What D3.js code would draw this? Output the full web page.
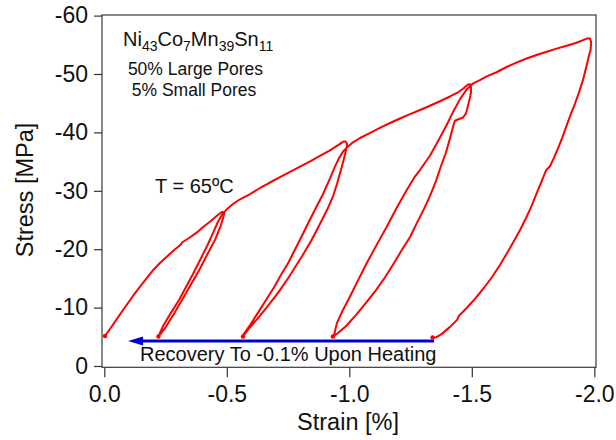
<!DOCTYPE html>
<html>
<head>
<meta charset="utf-8">
<script src="https://cdn.jsdelivr.net/npm/d3@7"></script>
<style>
  html, body { margin: 0; padding: 0; background: #fff; }
  svg { display: block; font-family: "Liberation Sans", Arial, Helvetica, sans-serif; }
</style>
</head>
<body>
<svg id="chart" width="616" height="440"></svg>
<script>
// Stress–strain cycles at T = 65 °C, [strain %, stress MPa]
const cycle1Load = [[-0.003,-5.14],[-0.023,-6.34],[-0.044,-7.59],[-0.068,-9.08],[-0.091,-10.45],[-0.117,-11.99],[-0.146,-13.58],[-0.174,-15.07],[-0.200,-16.44],[-0.227,-17.64],[-0.255,-18.72],[-0.285,-19.86],[-0.313,-20.8],[-0.317,-21.15],[-0.346,-21.92],[-0.377,-22.83],[-0.403,-23.8],[-0.431,-24.71],[-0.456,-25.6],[-0.475,-26.25],[-0.483,-26.4],[-0.489,-26.1]];
const cycle1Unload = [[-0.487,-25.7],[-0.476,-24.1],[-0.452,-21.6],[-0.419,-19.0],[-0.387,-16.4],[-0.354,-14.0],[-0.321,-11.6],[-0.284,-8.9],[-0.248,-6.5],[-0.221,-5.05]];
const cycle1Reload = [[-0.240,-6.85],[-0.272,-9.1],[-0.305,-11.3],[-0.333,-13.5],[-0.362,-15.75],[-0.391,-18.15],[-0.419,-20.5],[-0.444,-22.8],[-0.464,-24.7],[-0.480,-25.9],[-0.497,-26.7]];
const cycle2Load = [[-0.525,-27.74],[-0.554,-28.55],[-0.595,-29.45],[-0.636,-30.48],[-0.676,-31.42],[-0.717,-32.33],[-0.758,-33.24],[-0.799,-34.15],[-0.840,-35.03],[-0.880,-35.96],[-0.921,-36.93],[-0.954,-37.81],[-0.976,-38.43],[-0.985,-38.44],[-0.991,-38.01]];
const cycle2Unload = [[-0.989,-37.5],[-0.982,-36.1],[-0.966,-33.6],[-0.950,-31.2],[-0.934,-29.1],[-0.909,-26.7],[-0.876,-23.97],[-0.844,-21.4],[-0.807,-18.8],[-0.753,-15.2],[-0.712,-12.7],[-0.668,-10.3],[-0.623,-8.0],[-0.586,-6.2],[-0.566,-5.05]];
const cycle2Reload = [[-0.570,-5.5],[-0.595,-7.0],[-0.627,-9.1],[-0.660,-11.3],[-0.693,-13.5],[-0.721,-15.6],[-0.750,-17.6],[-0.778,-19.9],[-0.807,-22.3],[-0.835,-24.7],[-0.864,-27.1],[-0.893,-29.45],[-0.919,-31.9],[-0.940,-34.0],[-0.958,-35.6],[-0.976,-36.8],[-0.995,-37.6]];
const cycle3Load = [[-1.015,-38.3],[-1.044,-39.04],[-1.085,-39.93],[-1.125,-40.79],[-1.166,-41.61],[-1.207,-42.38],[-1.248,-43.12],[-1.289,-43.84],[-1.329,-44.57],[-1.370,-45.34],[-1.411,-46.15],[-1.444,-46.87],[-1.464,-47.47],[-1.478,-47.97],[-1.487,-48.24],[-1.495,-48.2],[-1.497,-47.6]];
const cycle3Unload = [[-1.497,-47.0],[-1.493,-46.0],[-1.484,-44.5],[-1.476,-43.2],[-1.464,-42.55],[-1.443,-42.2],[-1.431,-42.0],[-1.423,-40.9],[-1.411,-39.0],[-1.395,-36.6],[-1.374,-34.2],[-1.354,-31.7],[-1.329,-29.1],[-1.305,-26.9],[-1.276,-24.5],[-1.248,-22.1],[-1.215,-19.9],[-1.182,-17.6],[-1.146,-15.2],[-1.109,-13.0],[-1.068,-10.8],[-1.027,-8.7],[-0.987,-6.85],[-0.954,-5.65],[-0.933,-5.05]];
const cycle3Reload = [[-0.938,-5.3],[-0.949,-7.3],[-0.974,-9.6],[-1.003,-11.9],[-1.036,-14.7],[-1.071,-17.6],[-1.111,-20.7],[-1.153,-23.85],[-1.193,-27.05],[-1.234,-30.1],[-1.264,-32.2],[-1.289,-33.6],[-1.309,-34.8],[-1.329,-36.0],[-1.362,-38.5],[-1.398,-41.3],[-1.424,-43.55],[-1.452,-45.7],[-1.479,-47.35],[-1.497,-48.1]];
const cycle4Load = [[-1.506,-48.4],[-1.533,-48.95],[-1.561,-49.6],[-1.601,-50.3],[-1.642,-51.2],[-1.682,-51.95],[-1.724,-52.65],[-1.764,-53.25],[-1.806,-53.8],[-1.846,-54.35],[-1.887,-54.85],[-1.925,-55.3],[-1.954,-55.8],[-1.971,-56.1],[-1.982,-56.1],[-1.987,-55.5],[-1.985,-54.1]];
const cycle4Unload = [[-1.978,-53.1],[-1.966,-51.0],[-1.954,-49.0],[-1.938,-46.9],[-1.921,-44.9],[-1.905,-43.2],[-1.888,-41.3],[-1.872,-39.4],[-1.856,-37.7],[-1.835,-35.6],[-1.819,-34.2],[-1.803,-33.5],[-1.782,-31.3],[-1.762,-29.3],[-1.742,-27.2],[-1.721,-25.3],[-1.697,-23.3],[-1.672,-21.4],[-1.644,-19.35],[-1.615,-17.3],[-1.582,-15.2],[-1.550,-13.4],[-1.513,-11.5],[-1.476,-9.8],[-1.448,-8.6],[-1.440,-7.9],[-1.411,-6.7],[-1.378,-5.5],[-1.354,-4.9],[-1.340,-4.9]];

// Start points of each loading cycle
const cycleStarts = [[-0.003,-5.14],[-0.221,-5.05],[-0.566,-5.05],[-0.933,-5.05],[-1.34,-4.9]];

// Shape-memory recovery on heating
const recoveryFrom = [-1.346, -4.3];
const recoveryTo = [-0.097, -4.3];

// Axis ticks
const xTicks = [0, -0.5, -1.0, -1.5, -2.0];
const xTickLabels = ["0.0", "-0.5", "-1.0", "-1.5", "-2.0"];
const yTicks = [0, -10, -20, -30, -40, -50, -60];
const yTickLabels = ["0", "-10", "-20", "-30", "-40", "-50", "-60"];

const svg = d3.select("#chart");
const frame = { left: 102, right: 596, top: 15, bottom: 367.3 };

const x = d3.scaleLinear().domain([0, -2]).range([104.3, 594.3]);
const y = d3.scaleLinear().domain([0, -60]).range([366, 15.6]);

// plot frame
svg.append("rect")
  .attr("x", frame.left).attr("y", frame.top)
  .attr("width", frame.right - frame.left).attr("height", frame.bottom - frame.top)
  .attr("fill", "none").attr("stroke", "#3a3a3a").attr("stroke-width", 1.2);

// axes
const yAxis = d3.axisLeft(y).tickValues(yTicks)
  .tickFormat((d, i) => yTickLabels[i]).tickSize(8).tickPadding(6).tickSizeOuter(0);
const gy = svg.append("g").attr("transform", `translate(${frame.left},0)`).call(yAxis);
gy.select(".domain").remove();

const xAxis = d3.axisBottom(x).tickValues(xTicks)
  .tickFormat((d, i) => xTickLabels[i]).tickSize(10).tickPadding(8).tickSizeOuter(0);
const gx = svg.append("g").attr("transform", `translate(0,${frame.bottom})`).call(xAxis);
gx.select(".domain").remove();

svg.selectAll(".tick line").attr("stroke", "#333").attr("stroke-width", 1.2);
svg.selectAll(".tick text").attr("fill", "#111")
  .style("font-family", '"Liberation Sans", Arial, sans-serif').style("font-size", "23px");

// axis titles
svg.append("text")
  .attr("transform", "translate(32.5,190) rotate(-90)")
  .attr("text-anchor", "middle").attr("fill", "#111").style("font-size", "23.5px")
  .text("Stress [MPa]");
svg.append("text")
  .attr("x", 348).attr("y", 430)
  .attr("text-anchor", "middle").attr("fill", "#111").style("font-size", "23.5px")
  .text("Strain [%]");

// stress-strain trace, drawn as one continuous path
const trace = [].concat(cycle1Load, cycle1Unload, cycle1Reload, cycle2Load, cycle2Unload,
  cycle2Reload, cycle3Load, cycle3Unload, cycle3Reload, cycle4Load, cycle4Unload);
const line = d3.line().x(d => x(d[0])).y(d => y(d[1]));
svg.append("path").datum(trace)
  .attr("d", line).attr("fill", "none").attr("stroke", "#ff0000")
  .attr("stroke-width", 2).attr("stroke-linejoin", "round").attr("stroke-linecap", "round");

svg.selectAll("circle.start").data(cycleStarts).enter().append("circle")
  .attr("class", "start").attr("cx", d => x(d[0])).attr("cy", d => y(d[1]))
  .attr("r", 2.2).attr("fill", "#ff0000");

// recovery arrow
const blue = "#0000cc";
const x0 = x(recoveryFrom[0]), x1 = x(recoveryTo[0]), ya = y(recoveryFrom[1]);
svg.append("line")
  .attr("x1", x0).attr("y1", ya).attr("x2", x1 + 12).attr("y2", ya)
  .attr("stroke", blue).attr("stroke-width", 3);
svg.append("path")
  .attr("d", `M${x1},${ya} L${x1 + 15},${ya - 4.5} L${x1 + 15},${ya + 4.5} Z`)
  .attr("fill", blue);

svg.append("text")
  .attr("x", 140).attr("y", 360.5).attr("fill", "#111").style("font-size", "20px")
  .text("Recovery To -0.1% Upon Heating");

// alloy composition with subscripts
const comp = svg.append("text").attr("x", 123).attr("y", 46).attr("fill", "#111").style("font-size", "20px");
[["Ni", false], ["43", true], ["Co", false], ["7", true], ["Mn", false], ["39", true], ["Sn", false], ["11", true]]
  .forEach(([t, sub], i) => {
    comp.append("tspan")
      .attr("dy", i === 0 ? 0 : (sub ? 5 : -5))
      .style("font-size", sub ? "14px" : "20px")
      .text(t);
  });

svg.append("text").attr("x", 195.5).attr("y", 75).attr("text-anchor", "middle")
  .attr("fill", "#111").style("font-size", "17.5px").text("50% Large Pores");
svg.append("text").attr("x", 194).attr("y", 96).attr("text-anchor", "middle")
  .attr("fill", "#111").style("font-size", "17.5px").text("5% Small Pores");

svg.append("text").attr("x", 155).attr("y", 192.5)
  .attr("fill", "#111").style("font-size", "20px").text("T = 65ºC");
</script>
</body>
</html>
